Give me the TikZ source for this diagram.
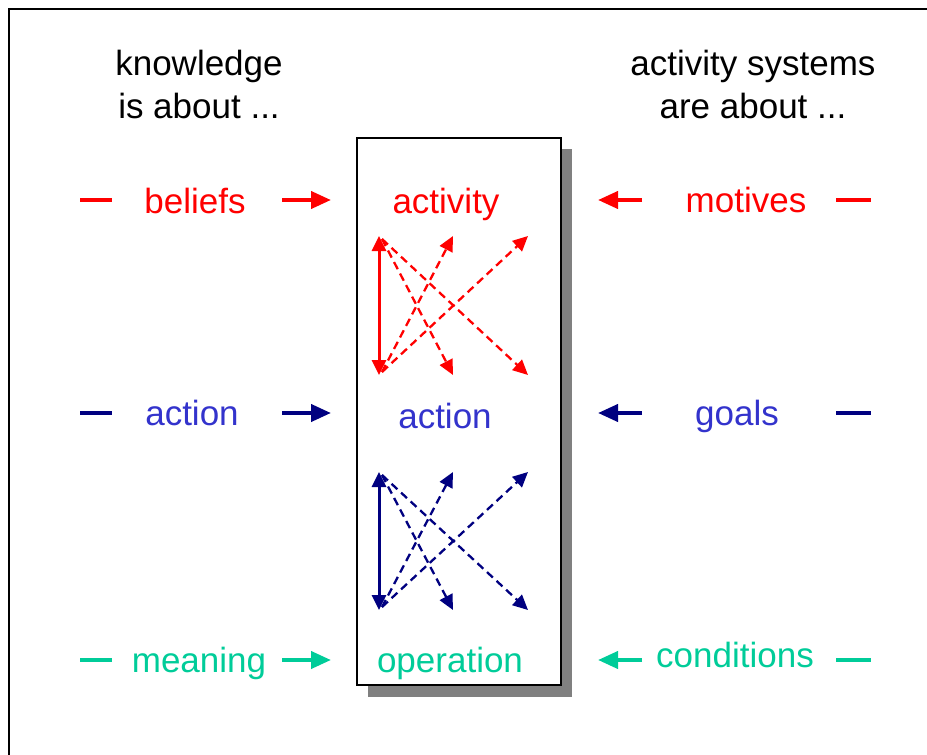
\documentclass[tikz,border=0pt]{standalone}
\usepackage{fontspec}
\setmainfont{Liberation Sans}
\usetikzlibrary{arrows.meta}
\definecolor{cred}{RGB}{255,0,0}
\definecolor{cnavy}{RGB}{0,0,128}
\definecolor{cblue}{RGB}{51,51,204}
\definecolor{cgreen}{RGB}{0,204,153}
\definecolor{cshadow}{RGB}{128,128,128}
\begin{document}
\begin{tikzpicture}[x=1pt,y=-1pt,
 lbl/.style={font=\fontsize{35}{43}\selectfont, inner sep=0pt, anchor=base},
 ttl/.style={font=\fontsize{35}{43}\selectfont, inner sep=0pt, anchor=base, align=center},
 side/.style={line width=4pt},
 sidearrow/.style={line width=4pt,-{Triangle[length=20pt,width=17pt]}},
 dasharrow/.style={line width=2.3pt, dash pattern=on 8pt off 5pt, -{Triangle[length=15pt,width=14pt]}},
 solidarrow/.style={line width=3pt, {Triangle[length=15pt,width=14pt]}-{Triangle[length=15pt,width=14pt]}},
]
\useasboundingbox (0,0) rectangle (927,755);
% frame
\coordinate (fa) at (9,755);
\coordinate (fb) at (9,9);
\coordinate (fc) at (927,9);
\draw[line width=2pt] (fa) -- (fb) -- (fc);
% titles
\node[ttl] (tl) at (199,118) {knowledge\\is about ...};
\node[ttl] (tr) at (753,118) {activity systems\\are about ...};
% box with shadow
\fill[cshadow] (368,149) rectangle (572,697);
\node[draw=black, fill=white, line width=1.5pt, minimum width=204pt, minimum height=547pt, inner sep=0pt] (box) at (459,411.5) {};
% box labels
\node[lbl, text=cred] (bact) at (446,213) {activity};
\node[lbl, text=cblue] (bacn) at (445,428) {action};
\node[lbl, text=cgreen] (bop) at (450,672) {operation};
% left labels
\node[lbl, text=cred] (lbel) at (195,213) {beliefs};
\node[lbl, text=cblue] (lact) at (192,425) {action};
\node[lbl, text=cgreen] (lmean) at (199,672) {meaning};
% right labels
\node[lbl, text=cred] (rmot) at (746,212) {motives};
\node[lbl, text=cblue] (rgoal) at (737,425) {goals};
\node[lbl, text=cgreen] (rcond) at (735,667) {conditions};
% side coordinates
\foreach \n/\y in {1/200,2/413,3/660}{
  \coordinate (ld\n a) at (80,\y);  \coordinate (ld\n b) at (112,\y);
  \coordinate (la\n a) at (282,\y); \coordinate (la\n b) at (331,\y);
  \coordinate (ra\n a) at (642,\y); \coordinate (ra\n b) at (598,\y);
  \coordinate (rd\n a) at (836,\y); \coordinate (rd\n b) at (871,\y);
}
\draw[side, cred] (ld1a) -- (ld1b);
\draw[sidearrow, cred] (la1a) -- (la1b);
\draw[sidearrow, cred] (ra1a) -- (ra1b);
\draw[side, cred] (rd1a) -- (rd1b);
\draw[side, cnavy] (ld2a) -- (ld2b);
\draw[sidearrow, cnavy] (la2a) -- (la2b);
\draw[sidearrow, cnavy] (ra2a) -- (ra2b);
\draw[side, cnavy] (rd2a) -- (rd2b);
\draw[side, cgreen] (ld3a) -- (ld3b);
\draw[sidearrow, cgreen] (la3a) -- (la3b);
\draw[sidearrow, cgreen] (ra3a) -- (ra3b);
\draw[side, cgreen] (rd3a) -- (rd3b);
% inner arrow groups
\foreach \g/\c/\t/\b in {r/cred/236/375, n/cnavy/472/610}{
  \coordinate (\g TL) at (379,\t);
  \coordinate (\g BL) at (379,\b);
  \coordinate (\g TM) at (453,\t);
  \coordinate (\g TR) at (528,\t);
  \coordinate (\g BM) at (453,\b);
  \coordinate (\g BR) at (528,\b);
  \draw[dasharrow, \c] ([shift={(3,3)}]\g TL) -- (\g BM);
  \draw[dasharrow, \c] ([shift={(3,3)}]\g TL) -- (\g BR);
  \draw[dasharrow, \c] ([shift={(3,-3)}]\g BL) -- (\g TM);
  \draw[dasharrow, \c] ([shift={(3,-3)}]\g BL) -- (\g TR);
  \draw[solidarrow, \c] (\g TL) -- (\g BL);
}
\end{tikzpicture}
\end{document}
